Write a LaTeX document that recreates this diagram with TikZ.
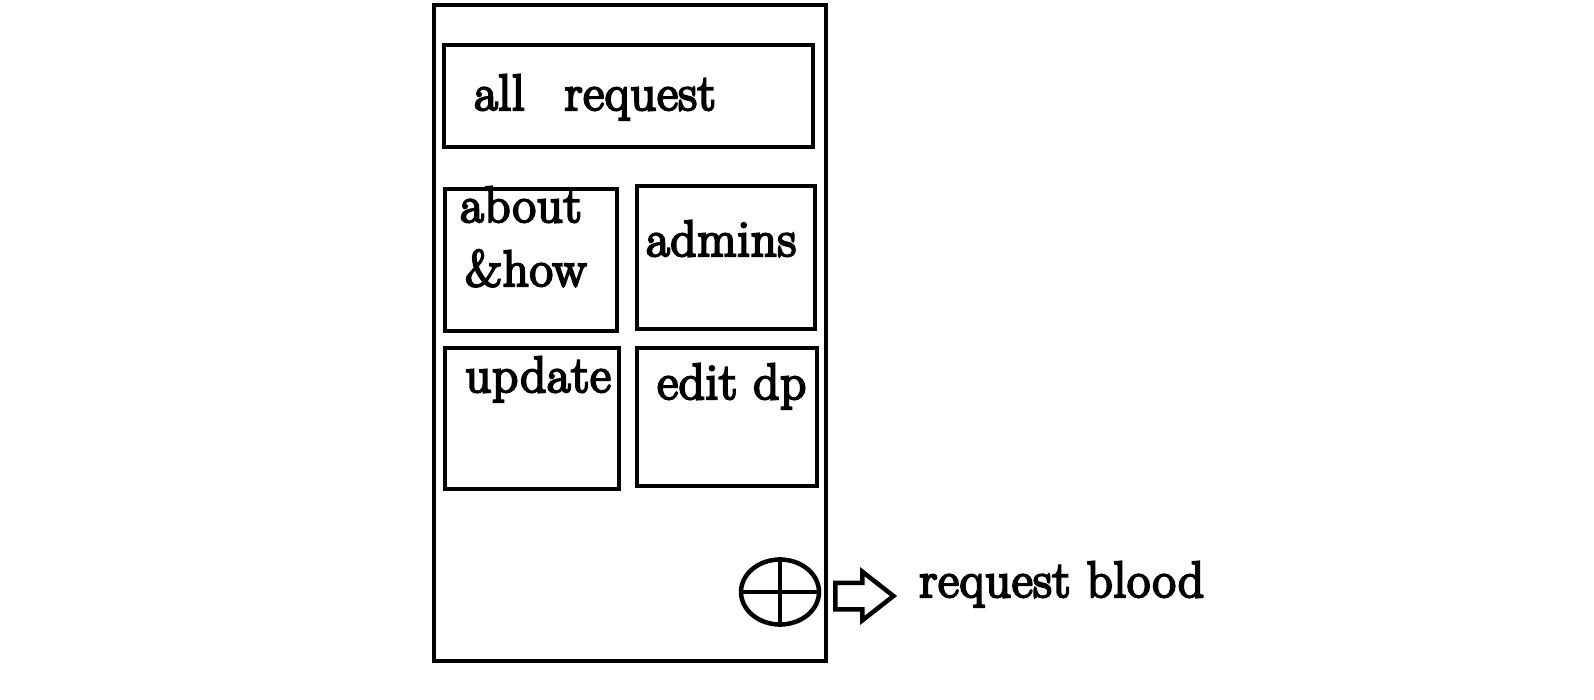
\documentclass[tikz,border=0pt]{standalone}
\usepackage{fontspec}
\newfontfamily\sketchfont{Latin Modern Roman}[FakeBold=4.5, LetterSpace=1.5]
\usetikzlibrary{shapes.geometric,shapes.arrows,positioning}

\begin{document}
\begin{tikzpicture}[x=1pt, y=-1pt, line width=4.5pt,
                    box/.style = {draw, rectangle, inner sep=0pt},
                    txt/.style = {anchor=base west, inner sep=0pt,
                      font=\sketchfont\fontsize{51}{61}\selectfont}]
\useasboundingbox (0,0) rectangle (1594,699);
\node[txt] (allreqtxt) at (472,110) {all\hspace{0.78em}request};
\node[txt] (abouttxt) at (458,222) {about};
\node[txt] (howtxt) at (463,286) {\&how};
\node[txt] (adminstxt) at (644,256) {admins};
\node[txt] (updatetxt) at (463,392) {update};
\node[txt] (editdptxt) at (655,399) {edit dp};
\node[txt] (bloodtxt) at (917,597) {request blood};
\node[box, minimum width=392, minimum height=656] (phone) at (630,333) {};
\node[box, minimum width=369, minimum height=102] (allreq) at (628.5,96) {};
\node[box, minimum width=172, minimum height=142] (about) at (531,260) {};
\node[box, minimum width=178, minimum height=143] (admins) at (726,257.5) {};
\node[box, minimum width=174, minimum height=141] (update) at (532,418.5) {};
\node[box, minimum width=180, minimum height=138] (editdp) at (727,417) {};
\node[draw, ellipse, inner sep=0pt, minimum width=78, minimum height=65] (btn) at (780,592) {};
\draw (btn.north) -- (btn.south) (btn.west) -- (btn.east);
\node[draw, single arrow, inner sep=11pt, minimum height=58,
      single arrow head extend=11pt, single arrow tip angle=76] (arr) at (856,596) {};
\end{tikzpicture}
\end{document}
